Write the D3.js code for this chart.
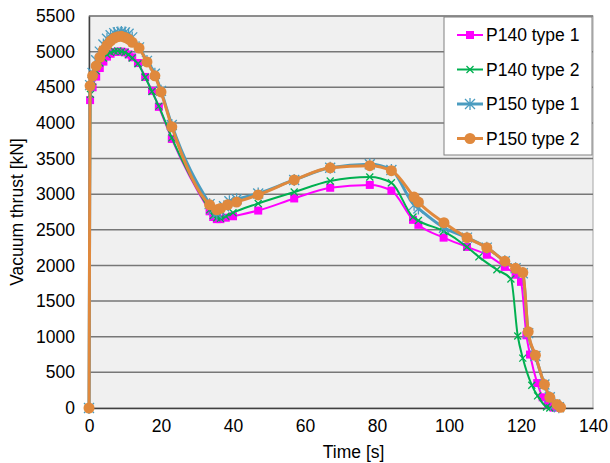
<!DOCTYPE html>
<html>
<head>
<meta charset="utf-8">
<script src="https://cdn.jsdelivr.net/npm/d3@7"></script>
<style>
  body { margin: 0; background: #fff; }
  text { font-family: "Liberation Sans", Arial, sans-serif; }
</style>
</head>
<body>
<div id="chart"></div>
<script>
// data

const seriesNames = ["P140 type 1", "P140 type 2", "P150 type 1", "P150 type 2"];

const p140t1Time = [0, 0.3, 1, 2, 3, 4, 5, 6, 7, 8, 9, 10, 11, 12, 13.6, 15.6, 17.5, 19.4, 23,
  33.5, 34.5, 35.5, 36.5, 38, 40, 47, 57, 67, 78, 84, 90, 91.5, 98.5, 105, 110.5,
  115.5, 118.5, 120, 121.5, 122.5, 124.5, 126, 127.5, 129];
const p140t1Thrust = [0, 4320, 4500, 4650, 4770, 4860, 4930, 4970, 4995, 5000, 5000, 4990, 4960, 4920, 4840, 4645, 4450, 4225, 3775,
  2760, 2680, 2650, 2650, 2670, 2690, 2770, 2940, 3090, 3130, 3050, 2640, 2570, 2390, 2260, 2150,
  1980, 1870, 1770, 1020, 750, 350, 150, 50, 5];

const p140t2Time = [0, 0.4, 1, 2, 3, 4, 5, 6, 7, 8, 9, 10, 11, 12, 13.6, 15.6, 17.5, 19.4, 23,
  33.5, 34.5, 35.5, 36.5, 38, 40, 47, 57, 67, 78, 84, 90, 91.5, 98.5, 105, 108.3,
  113.3, 117.2, 119.1, 120.5, 123, 124.6, 127.1, 128];
const p140t2Thrust = [0, 4400, 4580, 4730, 4840, 4910, 4960, 4990, 5005, 5010, 5000, 4990, 4960, 4910, 4830, 4640, 4440, 4235, 3790,
  2780, 2700, 2670, 2660, 2690, 2740, 2870, 3030, 3185, 3240, 3160, 2680, 2630, 2480, 2260, 2120,
  1940, 1810, 1010, 700, 320, 170, 15, 0];

const p150t1Time = [0, 0.3, 1, 2, 3, 4, 5, 6, 7, 8, 9, 10, 11, 12, 13.9, 16.1, 18.3, 20, 23,
  33.5, 34.5, 35.5, 36.5, 37.5, 39, 41, 47, 57, 67, 78, 84, 90.3, 91.5, 98.6, 105, 110.5,
  115.5, 118.5, 120.5, 122, 124, 126.5, 128, 129.5, 130.5];
const p150t1Thrust = [0, 4530, 4700, 4880, 5000, 5100, 5180, 5230, 5260, 5270, 5275, 5270, 5250, 5200, 5060, 4870, 4690, 4450, 3970,
  2860, 2780, 2730, 2760, 2830, 2900, 2930, 3010, 3200, 3370, 3420, 3340, 2850, 2800, 2530, 2390, 2250,
  2060, 1960, 1890, 1050, 730, 330, 150, 50, 10];

const p150t2Time = [0, 0.3, 1, 2, 3, 4, 5, 6, 7, 8, 9, 10, 11, 12, 13.9, 16.1, 18.3, 20, 23,
  33.5, 35.5, 36.5, 38.5, 41, 47, 57, 67, 78, 84, 90.3, 91.5, 98.6, 105, 110.5,
  115.5, 118.5, 120.5, 122, 124, 126.5, 128, 130, 131];
const p150t2Thrust = [0, 4520, 4660, 4800, 4920, 5020, 5090, 5150, 5190, 5210, 5215, 5200, 5175, 5130, 5050, 4855, 4660, 4435, 3945,
  2850, 2780, 2800, 2850, 2890, 2990, 3200, 3370, 3400, 3330, 2960, 2890, 2600, 2390, 2250,
  2060, 1960, 1900, 1070, 740, 330, 150, 50, 10];

const xTicks = [0, 20, 40, 60, 80, 100, 120, 140];
const yTicks = [0, 500, 1000, 1500, 2000, 2500, 3000, 3500, 4000, 4500, 5000, 5500];

const colors = ["#ff00ff", "#00b050", "#4a9cc0", "#e0893d"];

const series = [
  { name: seriesNames[0], t: p140t1Time, v: p140t1Thrust, color: colors[0], width: 2, marker: "square" },
  { name: seriesNames[1], t: p140t2Time, v: p140t2Thrust, color: colors[1], width: 2, marker: "cross" },
  { name: seriesNames[2], t: p150t1Time, v: p150t1Thrust, color: colors[2], width: 3, marker: "star" },
  { name: seriesNames[3], t: p150t2Time, v: p150t2Thrust, color: colors[3], width: 3, marker: "circle" }
];

// layout

const W = 610, H = 463;
const margin = { top: 16, right: 17, bottom: 55, left: 89 };
const width = W - margin.left - margin.right;
const height = H - margin.top - margin.bottom;
const fontSize = "17.5px";

const svg = d3.select("#chart")
  .append("svg")
    .attr("width", W)
    .attr("height", H);

const g = svg.append("g")
  .attr("transform", `translate(${margin.left},${margin.top})`);

const x = d3.scaleLinear().domain([0, 140]).range([0, width]);
const y = d3.scaleLinear().domain([0, 5500]).range([height, 0]);

// plot background
g.append("rect")
  .attr("width", width)
  .attr("height", height)
  .attr("fill", "#f0f0f0")
  .attr("stroke", "#a6a6a6")
  .attr("stroke-width", 1);

// gridlines
g.append("g")
  .selectAll("line")
  .data(yTicks.filter(d => d > 0))
  .join("line")
    .attr("x1", 0)
    .attr("x2", width)
    .attr("y1", d => y(d))
    .attr("y2", d => y(d))
    .attr("stroke", "#777")
    .attr("stroke-width", 1.5);

// axes
const xAxis = g.append("g")
  .attr("transform", `translate(0,${height})`)
  .call(d3.axisBottom(x).tickValues(xTicks).tickSize(0).tickPadding(12));
xAxis.select(".domain").attr("stroke", "#404040").attr("stroke-width", 1.5);
xAxis.selectAll("text").style("font-size", fontSize).attr("fill", "#000");

const yAxis = g.append("g")
  .call(d3.axisLeft(y).tickValues(yTicks).tickFormat(d3.format("d")).tickSize(0).tickPadding(14));
yAxis.select(".domain").attr("stroke", "#404040").attr("stroke-width", 1.5);
yAxis.selectAll("text").style("font-size", fontSize).attr("fill", "#000");

svg.append("text")
  .attr("x", margin.left + x(73.5))
  .attr("y", 458)
  .attr("text-anchor", "middle")
  .style("font-size", fontSize)
  .text("Time [s]");

svg.append("text")
  .attr("transform", `translate(23,${margin.top + height / 2}) rotate(-90)`)
  .attr("text-anchor", "middle")
  .style("font-size", fontSize)
  .text("Vacuum thrust [kN]");

// markers
function drawMarker(sel, type, color) {
  if (type === "square") {
    sel.append("rect")
      .attr("x", -4).attr("y", -4).attr("width", 8).attr("height", 8)
      .attr("fill", color);
  } else if (type === "cross") {
    sel.append("path")
      .attr("d", "M-3.5,-3.5L3.5,3.5M-3.5,3.5L3.5,-3.5")
      .attr("stroke", color).attr("stroke-width", 1.3).attr("fill", "none");
  } else if (type === "star") {
    sel.append("path")
      .attr("d", "M-5,-5L5,5M-5,5L5,-5M0,-6L0,6")
      .attr("stroke", color).attr("stroke-width", 1.3).attr("fill", "none");
  } else {
    sel.append("circle")
      .attr("r", 5.5)
      .attr("fill", color);
  }
}

const line = d3.line()
  .x(d => x(d[0]))
  .y(d => y(d[1]))
  .curve(d3.curveMonotoneX);

const plot = g.append("g");

series.forEach(s => {
  const pts = s.t.map((t, i) => [t, s.v[i]]);
  plot.append("path")
    .datum(pts)
    .attr("d", line)
    .attr("fill", "none")
    .attr("stroke", s.color)
    .attr("stroke-width", s.width);
  plot.append("g")
    .selectAll("g")
    .data(pts)
    .join("g")
      .attr("transform", d => `translate(${x(d[0])},${y(d[1])})`)
      .each(function() { drawMarker(d3.select(this), s.marker, s.color); });
});

// legend
const legend = svg.append("g").attr("transform", "translate(444,17)");
legend.append("rect")
  .attr("width", 148)
  .attr("height", 138)
  .attr("fill", "#fff")
  .attr("stroke", "#808080")
  .attr("stroke-width", 1);

series.forEach((s, i) => {
  const row = legend.append("g").attr("transform", `translate(0,${18 + i * 34.5})`);
  row.append("line")
    .attr("x1", 13).attr("x2", 39)
    .attr("stroke", s.color)
    .attr("stroke-width", s.width);
  drawMarker(row.append("g").attr("transform", "translate(26,0)"), s.marker, s.color);
  row.append("text")
    .attr("x", 42)
    .attr("dy", "0.35em")
    .style("font-size", fontSize)
    .text(s.name);
});
</script>
</body>
</html>
